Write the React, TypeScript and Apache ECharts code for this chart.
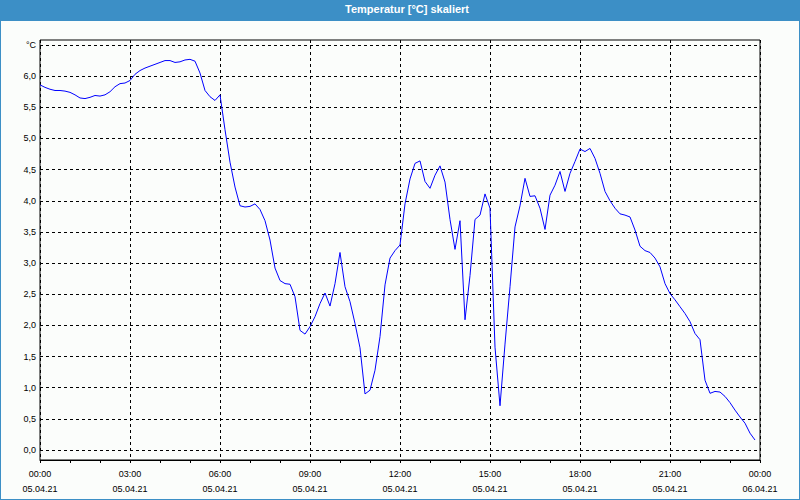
import React, { useEffect, useRef } from "react";
import * as echarts from "echarts";

// 10-minute samples from 05.04.21 00:00 to 23:50
const temperature: number[] = [
  5.86, 5.82, 5.79, 5.77, 5.77, 5.76, 5.74, 5.70, 5.65, 5.64,
  5.66, 5.69, 5.68, 5.70, 5.75, 5.83, 5.88, 5.89, 5.93, 6.03,
  6.09, 6.13, 6.16, 6.19, 6.22, 6.25, 6.25, 6.22, 6.23, 6.26,
  6.27, 6.24, 6.05, 5.77, 5.67, 5.61, 5.70, 5.14, 4.62, 4.22,
  3.92, 3.90, 3.91, 3.95, 3.86, 3.68, 3.37, 2.92, 2.72, 2.67,
  2.66, 2.46, 1.92, 1.86, 1.98, 2.14, 2.35, 2.52, 2.31, 2.67,
  3.17, 2.62, 2.38, 2.03, 1.64, 0.90, 0.96, 1.28, 1.82, 2.65,
  3.08, 3.20, 3.29, 3.95, 4.35, 4.60, 4.64, 4.31, 4.20, 4.41,
  4.56, 4.30, 3.70, 3.22, 3.68, 2.09, 2.80, 3.70, 3.77, 4.11,
  3.88, 1.65, 0.71, 1.70, 2.62, 3.58, 3.92, 4.36, 4.07, 4.08,
  3.88, 3.54, 4.09, 4.25, 4.47, 4.15, 4.44, 4.63, 4.83, 4.79,
  4.84, 4.68, 4.44, 4.15, 4.00, 3.88, 3.79, 3.77, 3.74, 3.53,
  3.27, 3.20, 3.17, 3.08, 2.94, 2.67, 2.51, 2.41, 2.30, 2.19,
  2.06, 1.87, 1.77, 1.12, 0.91, 0.94, 0.93, 0.86, 0.76, 0.64,
  0.53, 0.43, 0.27, 0.16,
];

const hourLabels = ["00:00", "03:00", "06:00", "09:00", "12:00", "15:00", "18:00", "21:00", "00:00"];
const dateLabels = ["05.04.21", "05.04.21", "05.04.21", "05.04.21", "05.04.21", "05.04.21", "05.04.21", "05.04.21", "06.04.21"];

const title = "Temperatur [°C] skaliert";
const unitLabel = "°C";

// x domain: 145 ten-minute slots covering 24 h
const timeCategories: string[] = [];
for (let i = 0; i <= 144; i++) {
  const m = (i * 10) % 1440;
  const hh = String(Math.floor(m / 60)).padStart(2, "0");
  const mm = String(m % 60).padStart(2, "0");
  timeCategories.push(hh + ":" + mm + (i === 144 ? "+" : ""));
}

const FONT = "'Liberation Sans', Arial, sans-serif";

export default function App() {
  const ref = useRef<HTMLDivElement>(null);
  useEffect(() => {
    if (!ref.current) return;
    const chart = echarts.init(ref.current, undefined, { renderer: "svg" });
    chart.setOption({
      animation: false,
      backgroundColor: "#fbfdfb",
      grid: [
        { left: 40, right: 40, top: 40, bottom: 40, show: true, borderColor: "#000", borderWidth: 1, backgroundColor: "transparent" },
        { left: 40, right: 40, top: 45, bottom: 50 },
      ],
      xAxis: [
        {
          gridIndex: 0,
          type: "category",
          data: timeCategories,
          boundaryGap: false,
          axisLine: { show: true, lineStyle: { color: "#000", width: 1 } },
          axisTick: { show: true, interval: 5, length: 3, lineStyle: { color: "#000" } },
          axisLabel: {
            interval: 17,
            margin: 6,
            fontFamily: FONT,
            fontSize: 9,
            lineHeight: 15,
            color: "#000",
            formatter: (_v: string, idx: number) => {
              const k = idx / 18;
              return hourLabels[k] + "\n" + dateLabels[k];
            },
          },
          splitLine: { show: true, interval: 17, lineStyle: { color: "#000", type: [3, 3], width: 1 } },
        },
        {
          gridIndex: 1,
          type: "category",
          data: timeCategories,
          boundaryGap: false,
          show: false,
        },
      ],
      yAxis: [
        { gridIndex: 0, type: "value", min: 0, max: 1, show: false, splitLine: { show: false } },
        {
          gridIndex: 1,
          type: "value",
          min: 0,
          max: 6.5,
          interval: 0.5,
          axisLine: { show: false },
          axisTick: { show: false },
          axisLabel: {
            margin: 4,
            fontFamily: FONT,
            fontSize: 9,
            color: "#000",
            formatter: (v: number) => (Math.abs(v - 6.5) < 1e-6 ? unitLabel : v.toFixed(1).replace(".", ",")),
          },
          splitLine: { show: true, lineStyle: { color: "#000", type: [3, 3], width: 1 } },
        },
      ],
      series: [
        {
          type: "line",
          xAxisIndex: 1,
          yAxisIndex: 1,
          data: temperature,
          showSymbol: false,
          symbol: "none",
          lineStyle: { color: "#0000ff", width: 1 },
          z: 5,
        },
      ],
      graphic: [
        { type: "rect", shape: { x: 0, y: 0, width: 800, height: 21 }, style: { fill: "#3c8fc6" }, z: 10 },
        {
          type: "text",
          x: 407,
          y: 9,
          style: { text: title, fill: "#ffffff", font: "bold 11px " + FONT, textAlign: "center", textVerticalAlign: "middle" },
          z: 11,
        },
        { type: "rect", shape: { x: 0, y: 0, width: 800, height: 500 }, style: { fill: "none", stroke: "#3c8fc6", lineWidth: 2 }, z: 12 },
      ],
    });
    return () => chart.dispose();
  }, []);
  return <div ref={ref} style={{ position: "absolute", left: 0, top: 0, width: 800, height: 500 }} />;
}
